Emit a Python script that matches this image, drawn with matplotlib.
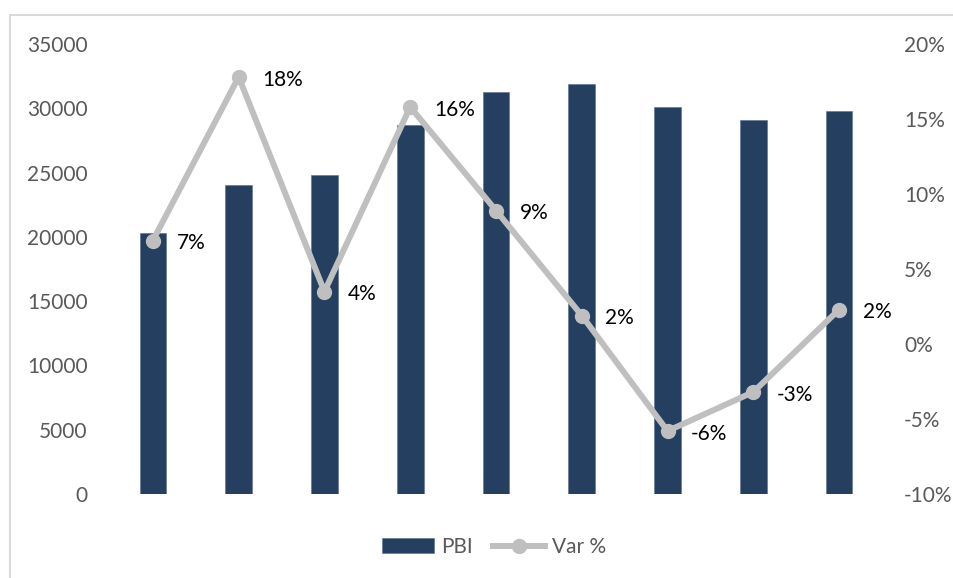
import matplotlib.pyplot as plt
import matplotlib.patches as mpatches
import numpy as np

# Datos
anios = ["1", "2", "3", "4", "5", "6", "7", "8", "9"]
pbi = [20300, 24000, 24800, 28700, 31300, 31900, 30100, 29100, 29800]
var_pct = [6.9, 17.8, 3.5, 15.8, 8.9, 1.9, -5.8, -3.2, 2.3]
etiquetas_var = ["7%", "18%", "4%", "16%", "9%", "2%", "-6%", "-3%", "2%"]

color_barra = "#243F60"
color_linea = "#BFBFBF"
color_texto = "#595959"

plt.rcParams['font.family'] = ['Lato', 'DejaVu Sans']
tam = 15

fig = plt.figure(figsize=(9.54, 5.78), dpi=100)
ax = fig.add_axes([110 / 954, 1 - 494 / 578, 772 / 954, 450 / 578])

# marco del área del gráfico
fig.patches.append(mpatches.Rectangle((10 / 954, -0.05), 1.0, 1 - 15 / 578 + 0.05,
                                      transform=fig.transFigure, fill=False,
                                      edgecolor="#D9D9D9", lw=1.5, zorder=0))

x = np.arange(len(anios))
ax.bar(x, pbi, width=0.31, color=color_barra, edgecolor="#5A7090", linewidth=0.4,
       label="PBI", zorder=2)
ax.set_xlim(-0.5, len(anios) - 0.5)
ax.set_ylim(0, 35000)
ax.set_yticks(range(0, 35001, 5000))
ax.set_xticks([])
ax.tick_params(axis='y', length=0, pad=16, labelsize=tam, labelcolor=color_texto)
for s in ax.spines.values():
    s.set_visible(False)

ax2 = ax.twinx()
ax2.plot(x, var_pct, color=color_linea, lw=4.3, marker='o', markersize=10,
         label="Var %", zorder=3)
ax2.set_ylim(-10, 20)
ax2.set_yticks(range(-10, 21, 5))
ax2.set_yticklabels([f"{v}%" for v in range(-10, 21, 5)])
ax2.tick_params(axis='y', length=0, pad=16, labelsize=tam, labelcolor=color_texto)
for s in ax2.spines.values():
    s.set_visible(False)

for xi, v, t in zip(x, var_pct, etiquetas_var):
    ax2.annotate(t, (xi, v), xytext=(17, -2), textcoords='offset points',
                 ha='left', va='center', fontsize=tam, color='black')

h1, l1 = ax.get_legend_handles_labels()
h2, l2 = ax2.get_legend_handles_labels()
fig.legend(h1 + h2, l1 + l2, loc='center', bbox_to_anchor=(494 / 954, 1 - 547 / 578),
           ncol=2, frameon=False, fontsize=tam, labelcolor=color_texto,
           handlelength=2.5, handletextpad=0.3, columnspacing=1.0)

fig.savefig("out.png", dpi=100)
